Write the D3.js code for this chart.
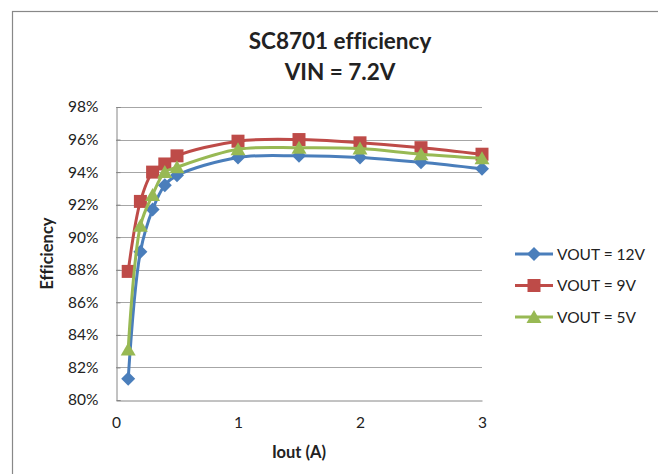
<!DOCTYPE html>
<html><head><meta charset="utf-8">
<script src="https://cdn.jsdelivr.net/npm/d3@7"></script>
<style>body{margin:0;background:#fff}svg{display:block}text{font-family:Lato,"Liberation Sans",sans-serif;fill:#222;font-variant-ligatures:none}</style>
</head><body><svg id="c" width="658" height="474"></svg>
<script>
const iout = [0.1, 0.2, 0.3, 0.4, 0.5, 1, 1.5, 2, 2.5, 3];
const vout12 = [81.3, 89.1, 91.7, 93.2, 93.8, 94.9, 95.0, 94.9, 94.6, 94.2];
const vout9 = [87.9, 92.2, 94.0, 94.5, 95.0, 95.9, 96.0, 95.8, 95.5, 95.1];
const vout5 = [83.1, 90.7, 92.6, 94.0, 94.3, 95.4, 95.5, 95.45, 95.1, 94.85];
const seriesNames = ["VOUT = 12V", "VOUT = 9V", "VOUT = 5V"];
const yTicks = [80, 82, 84, 86, 88, 90, 92, 94, 96, 98];
const xTicks = [0, 1, 2, 3];

const colors = ["#4A7EBB", "#BE4B48", "#98B954"];
const shapes = ["diamond", "square", "triangle"];
const series = [vout12, vout9, vout5].map((v, i) => ({name: seriesNames[i], values: v, color: colors[i], shape: shapes[i]}));

const svg = d3.select("#c");
// outer frame
svg.append("rect").attr("x", 12.5).attr("y", 11.5).attr("width", 700).attr("height", 500)
  .attr("fill", "#fff").attr("stroke", "#888").attr("stroke-width", 1.2);

const L = 116, R = 482, T = 107, B = 400;
const x = d3.scaleLinear().domain([0, 3]).range([L, R]);
const y = d3.scaleLinear().domain([80, 98]).range([B, T]);

// gridlines
svg.append("g").selectAll("line").data(yTicks.slice(1)).join("line")
  .attr("x1", L).attr("x2", R).attr("y1", d => Math.round(y(d)) + 0.5).attr("y2", d => Math.round(y(d)) + 0.5)
  .attr("stroke", "#a6a6a6").attr("stroke-width", 1);

// y axis
const yAxis = d3.axisLeft(y).tickValues(yTicks).tickFormat(d => d + "%").tickSize(-4).tickPadding(18);
const gy = svg.append("g").attr("transform", `translate(${L + 0.5},0)`).call(yAxis);
gy.select(".domain").attr("stroke", "#868686");
gy.selectAll(".tick line").attr("stroke", "#868686");
gy.selectAll(".tick text").attr("font-size", 15.5).attr("fill", "#222").attr("font-family", "Lato");

// x axis
const xAxis = d3.axisBottom(x).tickValues(xTicks).tickFormat(d3.format("d")).tickSize(0).tickPadding(16);
const gx = svg.append("g").attr("transform", `translate(0,${B + 0.5})`).call(xAxis);
gx.select(".domain").attr("stroke", "#868686");
gx.selectAll(".tick text").attr("font-size", 15.5).attr("fill", "#222").attr("font-family", "Lato");

// titles
svg.append("text").attr("x", 340).attr("y", 49).attr("text-anchor", "middle")
  .attr("font-size", 22.5).attr("font-weight", "bold").text("SC8701 efficiency");
svg.append("text").attr("x", 340).attr("y", 80).attr("text-anchor", "middle")
  .attr("font-size", 22.5).attr("font-weight", "bold").text("VIN = 7.2V");
svg.append("text").attr("x", (L + R) / 2).attr("y", 458).attr("text-anchor", "middle")
  .attr("font-size", 16.5).attr("font-weight", "bold").text("Iout (A)");
svg.append("text").attr("transform", `translate(53,${(T + B) / 2}) rotate(-90)`).attr("text-anchor", "middle")
  .attr("font-size", 16.5).attr("font-weight", "bold").text("Efficiency");

function markerPath(shape) {
  if (shape === "diamond") return "M0,-7L7,0L0,7L-7,0Z";
  if (shape === "square") return "M-6.5,-6.5H6.5V6.5H-6.5Z";
  return "M0,-7L7.5,6L-7.5,6Z";
}

const line = d3.line().x(d => x(d[0])).y(d => y(d[1])).curve(d3.curveCatmullRom.alpha(0.5));

series.forEach(s => {
  const pts = iout.map((v, i) => [v, s.values[i]]);
  const g = svg.append("g");
  g.append("path").attr("d", line(pts)).attr("fill", "none").attr("stroke", s.color).attr("stroke-width", 3);
  g.selectAll("path.m").data(pts).join("path").attr("class", "m")
    .attr("transform", d => `translate(${x(d[0])},${y(d[1])})`)
    .attr("d", markerPath(s.shape)).attr("fill", s.color);
});

// legend
const lg = svg.append("g");
series.forEach((s, i) => {
  const ly = 254 + i * 31.5;
  lg.append("line").attr("x1", 515).attr("x2", 553).attr("y1", ly).attr("y2", ly).attr("stroke", s.color).attr("stroke-width", 3);
  lg.append("path").attr("transform", `translate(534,${ly})`).attr("d", markerPath(s.shape)).attr("fill", s.color);
  lg.append("text").attr("x", 557).attr("y", ly + 5.5).attr("font-size", 15.5).text(s.name);
});
</script></body></html>
